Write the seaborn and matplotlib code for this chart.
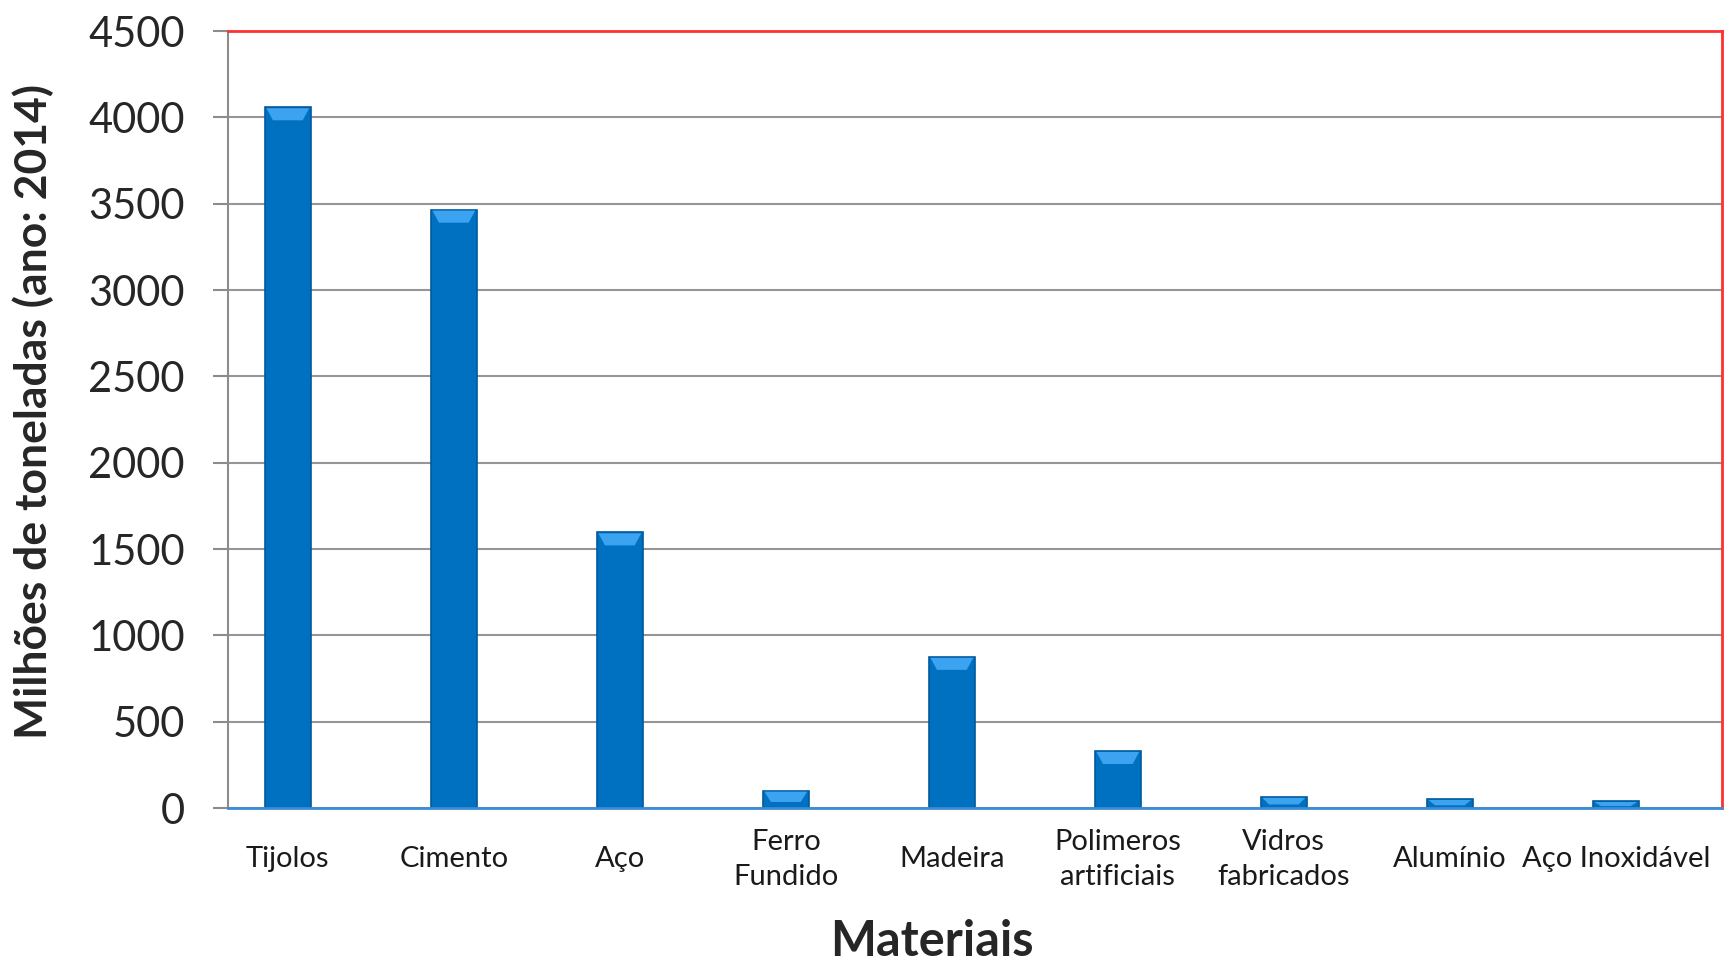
import numpy as np
import pandas as pd
import matplotlib
matplotlib.use('Agg')
import matplotlib.pyplot as plt
from matplotlib.patches import Polygon
import seaborn as sns

# --- Dados (milhões de toneladas, ano 2014) ---
materiais = ['Tijolos', 'Cimento', 'Aço', 'Ferro\nFundido', 'Madeira',
             'Polimeros\nartificiais', 'Vidros\nfabricados', 'Alumínio', 'Aço Inoxidável']
producao = [4058, 3465, 1596, 100, 875, 330, 64, 52, 40]

y_ticks = list(range(0, 4501, 500))

df = pd.DataFrame({'Material': materiais, 'Producao': producao})

BAR_W = 0.28

sns.set_style('white')
plt.rcParams['font.family'] = ['Lato', 'DejaVu Sans']

fig = plt.figure(figsize=(17.29, 9.64), dpi=100)
ax = fig.add_axes([0.1319, 0.1618, 0.8641, 0.806])

sns.barplot(data=df, x='Material', y='Producao', color='#0070C0',
            width=BAR_W, edgecolor='#005A9E', linewidth=1.2, saturation=1, ax=ax)

# no Excel original as barras ficam deslocadas meia largura à esquerda
for p in list(ax.patches):
    p.set_x(p.get_x() - BAR_W / 2)
    h = p.get_height()
    hl = min(h * 0.6, 70)
    x0, w = p.get_x(), p.get_width()
    top = h - 5
    ax.add_patch(Polygon([(x0 + w * 0.04, top), (x0 + w * 0.96, top),
                          (x0 + w * 0.82, top - hl), (x0 + w * 0.18, top - hl)],
                         closed=True, color='#3BA3F0', lw=0, zorder=p.get_zorder() + 0.1))

ax.set_ylim(0, 4500)
ax.set_xlim(-0.5, len(materiais) - 0.5)
ax.set_yticks(y_ticks)
ax.set_yticklabels([str(v) for v in y_ticks], fontsize=30)
ax.yaxis.grid(True, color='#969696', linewidth=1.5)
ax.set_axisbelow(True)

# rótulos sob as barras, ticks nas fronteiras das categorias
ax.set_xticks(np.arange(len(materiais)) - BAR_W / 2)
ax.set_xticklabels(materiais)
ax.set_xticks(np.arange(-0.5, len(materiais)), minor=True)
ax.tick_params(axis='x', which='major', length=0, pad=37, labelsize=21)
ax.tick_params(axis='x', which='minor', length=11, width=1.5, color='#3C8DD6', direction='out')
for lbl in ax.get_xticklabels():
    lbl.set_va('center')
    lbl.set_linespacing(1.45)
    lbl.set_color('#1a1a1a')
ax.tick_params(axis='y', length=11, width=1.5, color='#8c8c8c', direction='out', pad=20, left=True)

for s in ['top', 'right']:
    ax.spines[s].set_color('#FF3030')
    ax.spines[s].set_linewidth(2)
ax.spines['left'].set_color('#8c8c8c')
ax.spines['left'].set_linewidth(1.5)
ax.spines['bottom'].set_color('#3C8DD6')
ax.spines['bottom'].set_linewidth(2)

ax.set_ylabel('Milhões de toneladas (ano: 2014)', fontsize=32, fontweight='bold')
ax.yaxis.label.set_va('center')
ax.yaxis.set_label_coords(-0.1305, 0.51)
ax.set_xlabel('Materiais', fontsize=35, fontweight='bold')
ax.xaxis.label.set_va('center')
ax.xaxis.set_label_coords(0.471, -0.172)

fig.savefig('out.png', dpi=100)
